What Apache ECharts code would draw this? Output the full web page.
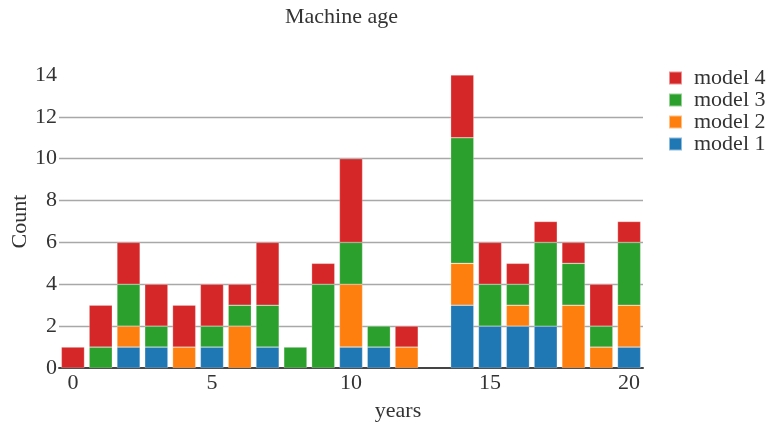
<!DOCTYPE html>
<html>
<head>
<meta charset="utf-8">
<script src="https://cdn.jsdelivr.net/npm/echarts@6/dist/echarts.min.js"></script>
<style>
  html, body { margin: 0; padding: 0; background: #fff; }
  #chart { width: 769px; height: 423px; }
</style>
</head>
<body>
<div id="chart"></div>
<script>
var years = ['0','1','2','3','4','5','6','7','8','9','10','11','12','13','14','15','16','17','18','19','20'];
var model1 = [0,0,1,1,0,1,0,1,0,0,1,1,0,0,3,2,2,2,0,0,1];
var model2 = [0,0,1,0,1,0,2,0,0,0,3,0,1,0,2,0,1,0,3,1,2];
var model3 = [0,1,2,1,0,1,1,2,1,4,2,1,0,0,6,2,1,4,2,1,3];
var model4 = [1,2,2,2,2,2,1,3,0,1,4,0,1,0,3,2,1,1,1,2,1];

var seriesNames = ['model 1','model 2','model 3','model 4'];
var seriesData = [model1, model2, model3, model4];
var colors = ['#1f77b4','#ff7f0e','#2ca02c','#d62728'];

var font = '"Liberation Serif", "DejaVu Serif", serif';

var chart = echarts.init(document.getElementById('chart'));

var series = seriesNames.map(function(name, i){
	return {
		name: name,
		type: 'bar',
		stack: 'all',
		barWidth: '83%',
		itemStyle: { color: colors[i], borderColor: 'rgba(255,255,255,0.5)', borderWidth: 0.5 },
		data: seriesData[i].map(function(v){ return v === 0 ? '-' : v; })
	};
});

var option = {
	animation: false,
	title: {
		text: 'Machine age',
		left: 280,
		top: 1,
		textStyle: { fontFamily: font, fontWeight: 'normal', fontSize: 22, color: '#333' }
	},
	legend: {
		data: ['model 4','model 3','model 2','model 1'],
		orient: 'vertical',
		left: 663,
		top: 62,
		itemWidth: 13,
		itemHeight: 13,
		itemGap: 0,
		icon: 'rect',
		textStyle: { fontFamily: font, fontSize: 22, lineHeight: 21.7, color: '#333', padding: [0, 0, 0, 7] }
	},
	grid: { left: 59, right: 126, top: 75, bottom: 55, outerBoundsMode: 'none', containLabel: false },
	xAxis: {
		type: 'category',
		data: years,
		name: 'years',
		nameLocation: 'middle',
		nameGap: 32,
		nameTextStyle: { fontFamily: font, fontSize: 22, color: '#333', padding: [0, 0, 0, 94] },
		axisLine: { lineStyle: { color: '#444', width: 2 } },
		axisTick: { show: false },
		axisLabel: {
			interval: function(idx){ return idx % 5 === 0; },
			fontFamily: font, fontSize: 22, color: '#333', margin: 4
		}
	},
	yAxis: {
		type: 'value',
		min: 0,
		max: 14,
		interval: 2,
		name: 'Count',
		nameLocation: 'middle',
		nameGap: 28,
		nameMoveOverlap: false,
		nameTextStyle: { fontFamily: font, fontSize: 22, color: '#333' },
		axisLine: { show: false },
		axisTick: { show: false },
		axisLabel: { fontFamily: font, fontSize: 22, color: '#333', margin: 2 },
		splitLine: { showMaxLine: false, showMinLine: false, lineStyle: { color: '#a8a8a8', width: 1.3 } }
	},
	series: series
};

chart.setOption(option);
</script>
</body>
</html>
